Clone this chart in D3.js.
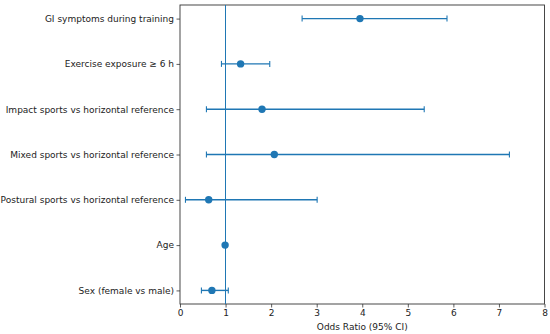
<!DOCTYPE html>
<html><head><meta charset="utf-8">
<script src="https://cdn.jsdelivr.net/npm/d3@7"></script>
<style>body{margin:0;background:#fff}svg{display:block}text{font-family:"DejaVu Sans",sans-serif;fill:#222}</style>
</head><body><svg id="c" width="550" height="334"></svg>
<script>
const categories = ["GI symptoms during training","Exercise exposure \u2265 6 h","Impact sports vs horizontal reference","Mixed sports vs horizontal reference","Postural sports vs horizontal reference","Age","Sex (female vs male)"];
const oddsRatio = [3.95, 1.33, 1.80, 2.07, 0.63, 0.99, 0.70];
const ciLower = [2.68, 0.91, 0.58, 0.58, 0.12, 0.97, 0.47];
const ciUpper = [5.86, 1.97, 5.36, 7.23, 3.01, 1.02, 1.06];
const xTicks = [0,1,2,3,4,5,6,7,8];
const refValue = 1;
const xLabel = "Odds Ratio (95% CI)";

const svg = d3.select("#c");
const m = {l:180, r:5.5, t:5, b:30};
const W = 550, H = 334;
const color = "#1f77b4";
const fs = "9px";
const x = d3.scaleLinear().domain([0,8]).range([m.l, W-m.r]);
const idx = d3.range(categories.length);
const y = d3.scaleLinear().domain([-0.3, categories.length-1+0.3]).range([m.t, H-m.b]);

const xa = svg.append("g").attr("transform",`translate(0,${H-m.b})`)
  .call(d3.axisBottom(x).tickValues(xTicks).tickFormat(d3.format("d")).tickSize(3.5).tickPadding(2));
const ya = svg.append("g").attr("transform",`translate(${m.l},0)`)
  .call(d3.axisLeft(y).tickValues(idx).tickFormat(i=>categories[i]).tickSize(3.5).tickPadding(2.5));
[xa,ya].forEach(g=>{g.selectAll("text").style("font-size",fs).attr("fill","#222");g.selectAll("line").attr("stroke","#333").attr("stroke-width",0.8);g.select(".domain").remove();});

svg.append("rect").attr("x",m.l).attr("y",m.t).attr("width",W-m.r-m.l).attr("height",H-m.b-m.t)
  .attr("fill","none").attr("stroke","#333").attr("stroke-width",0.9);

svg.append("line").attr("x1",x(refValue)).attr("x2",x(refValue)).attr("y1",m.t).attr("y2",H-m.b)
  .attr("stroke",color).attr("stroke-width",1.2).attr("shape-rendering","crispEdges");

const g = svg.append("g");
idx.forEach(i=>{
  const yy = y(i);
  g.append("line").attr("x1",x(ciLower[i])).attr("x2",x(ciUpper[i])).attr("y1",yy).attr("y2",yy).attr("stroke",color).attr("stroke-width",1.4);
  [ciLower[i],ciUpper[i]].forEach(v=>g.append("line").attr("x1",x(v)).attr("x2",x(v)).attr("y1",yy-3).attr("y2",yy+3).attr("stroke",color).attr("stroke-width",1.1));
  g.append("circle").attr("cx",x(oddsRatio[i])).attr("cy",yy).attr("r",3.7).attr("fill",color);
});

svg.append("text").attr("x",(m.l+W-m.r)/2).attr("y",330).attr("text-anchor","middle").style("font-size",fs).text(xLabel);
</script></body></html>
